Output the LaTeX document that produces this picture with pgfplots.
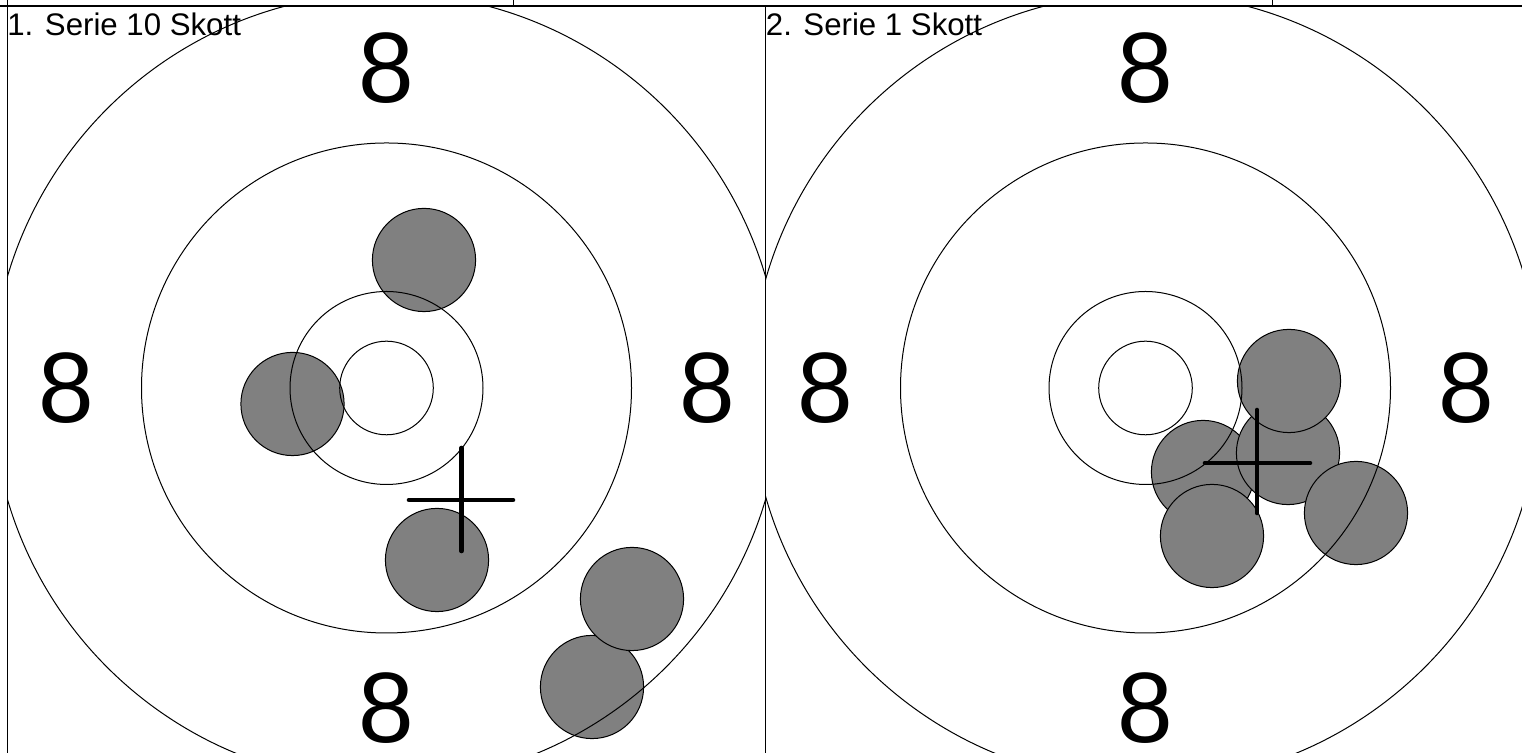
\documentclass[border=0pt]{standalone}
\usepackage{fontspec}
\setmainfont{Liberation Sans}
\usepackage{pgfplots}
\pgfplotsset{compat=1.18}
\definecolor{shot}{RGB}{128,128,128}

\pgfplotsset{
  target/.style={
    scale only axis, width=379.25pt, height=377pt,
    ymin=-372, ymax=382,
    xtick=\empty, ytick=\empty,
    axis line style={line width=0.5pt, black},
    clip=true, clip marker paths=true,
    anchor=north west,
  },
  ring/.style={black, only marks, mark=o, mark size=#1, mark options={line width=0.5pt, solid, draw=black, fill=none}},
  shots/.style={only marks, mark=*, mark size=25.8pt, mark options={fill=shot, draw=black, line width=0.5pt}},
  crossline/.style={black, line width=2.3pt, line cap=round, mark=none},
}
\tikzset{
  ringnum/.style={anchor=center, inner sep=0pt, font=\fontsize{50}{60}\selectfont},
  serie/.style={anchor=base west, inner sep=0pt, font=\fontsize{15.6}{18}\selectfont},
}

\begin{document}
\begin{tikzpicture}
\clip (0,0) rectangle (761pt,376.5pt);

% ---------- panel 1 ----------
\begin{axis}[target, at={(3.5pt,373.5pt)}, xmin=-379.5, xmax=379]
  \addplot[shots] coordinates {(37.5,128) (-94,-16) (50.5,-172) (205.5,-299) (245.5,-211)};
  \addplot[ring=23.4pt] coordinates {(0,0)};
  \addplot[ring=48.25pt] coordinates {(0,0)};
  \addplot[ring=122.5pt] coordinates {(0,0)};
  \addplot[ring=197.5pt] coordinates {(0,0)};
  \addplot[crossline] coordinates {(22.5,-112) (126.5,-112)};
  \addplot[crossline] coordinates {(75,-60) (75,-163)};
  \node[ringnum] at (axis cs:0,320) {8};
  \node[ringnum] at (axis cs:-320,0) {8};
  \node[ringnum] at (axis cs:320.5,0) {8};
  \node[ringnum] at (axis cs:0,-320) {8};
  \node[serie] at (axis cs:-379.5,352.5) {1. Serie 10 Skott};
\end{axis}

% ---------- panel 2 ----------
\begin{axis}[target, at={(382.75pt,373.5pt)}, xmin=-380, xmax=378.5]
  \addplot[shots] coordinates {(57.5,-84) (142.5,-65) (143.5,7) (66.5,-148) (210.5,-125)};
  \addplot[ring=23.4pt] coordinates {(0,0)};
  \addplot[ring=48.25pt] coordinates {(0,0)};
  \addplot[ring=122.5pt] coordinates {(0,0)};
  \addplot[ring=197.5pt] coordinates {(0,0)};
  \addplot[crossline] coordinates {(59.5,-75) (164.5,-75)};
  \addplot[crossline] coordinates {(111.5,-22) (111.5,-125)};
  \node[ringnum] at (axis cs:0,320) {8};
  \node[ringnum] at (axis cs:-320,0) {8};
  \node[ringnum] at (axis cs:320.5,0) {8};
  \node[ringnum] at (axis cs:0,-320) {8};
  \node[serie] at (axis cs:-380,352.5) {2. Serie 1 Skott};
\end{axis}

% table strip at the top
\draw[line width=1.2pt] (0,373.5pt) -- (761pt,373.5pt);
\draw[line width=0.5pt] (3.5pt,373.5pt) -- (3.5pt,376.5pt);
\draw[line width=0.5pt] (256.5pt,373.5pt) -- (256.5pt,376.5pt);
\draw[line width=0.5pt] (636pt,373.5pt) -- (636pt,376.5pt);
\end{tikzpicture}
\end{document}
